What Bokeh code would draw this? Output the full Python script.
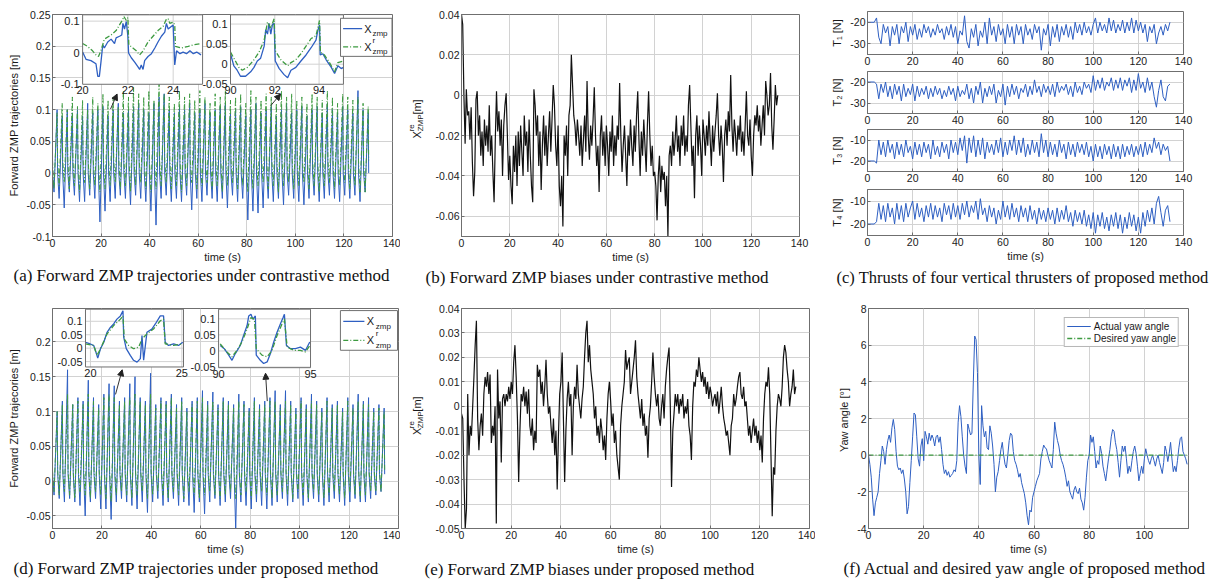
import numpy as np
from bokeh.plotting import figure
from bokeh.layouts import row, column
from bokeh.models import (Range1d, FixedTicker, PrintfTickFormatter, Title,
                          Arrow, NormalHead, Legend, LegendItem)
from bokeh.embed import file_html
from bokeh.resources import INLINE
from bokeh.core.properties import value

# ======================= DATA =======================
time_ticks = [0, 20, 40, 60, 80, 100, 120, 140]
time_ticks_f = [0, 20, 40, 60, 80, 100]

# ---- (a) contrastive method: per-step peaks / troughs [mm] ----
a_step_period = 2.1
a_xzmp_rest_mm = 0
a_xr_rest_mm = 20
a_xzmp_peak_mm = [100, 90, 100, 95, 100, 90, 110, 95, 100, 105,
                  90, 100, 110, 95, 100, 105, 110, 100, 95, 110,
                  120, 125, 100, 95, 105, 100, 110, 95, 100, 110,
                  95, 100, 105, 110, 95, 100, 105, 90, 100, 110,
                  95, 100, 105, 90, 100, 110, 95, 100, 105, 90,
                  100, 105, 95, 110, 100, 95, 105, 100, 95, 130,
                  100, 95]
a_xzmp_trough_mm = [-30, -40, -55, -30, -35, -45, -45, -35, -40, -77,
                    -60, -45, -40, -35, -40, -50, -35, -40, -45, -60,
                    -82, -40, -35, -45, -40, -45, -35, -58, -40, -45,
                    -35, -40, -45, -40, -55, -35, -45, -40, -74, -60,
                    -63, -55, -40, -45, -40, -50, -35, -40, -45, -50,
                    -40, -35, -45, -40, -35, -40, -45, -35, -40, -35,
                    -45, -30]
a_xr_peak_mm = [95, 110, 100, 120, 105, 115, 100, 120, 110, 125,
                115, 120, 105, 130, 120, 135, 125, 120, 130, 115,
                140, 125, 120, 110, 130, 120, 125, 115, 130, 120,
                110, 125, 120, 130, 115, 120, 125, 110, 130, 120,
                115, 125, 120, 110, 130, 120, 125, 115, 120, 110,
                125, 120, 115, 130, 120, 110, 125, 120, 115, 120,
                110, 105]
a_xr_trough_mm = [-25, -20, -15, -25, -20, -30, -15, -25, -20, -30,
                  -25, -20, -15, -25, -20, -30, -20, -15, -25, -30,
                  -25, -20, -15, -25, -20, -30, -20, -15, -25, -20,
                  -15, -25, -20, -30, -20, -15, -25, -20, -30, -25,
                  -20, -15, -25, -20, -30, -20, -15, -25, -20, -15,
                  -25, -20, -30, -20, -15, -25, -20, -15, -25, -20,
                  -30, -30]
# (a) zoomed insets
a_in1_xzmp_t = [20.00, 20.15, 20.37, 20.59, 20.67, 20.74, 20.81, 20.89, 20.96, 21.11,
                21.26, 21.41, 21.48, 21.63, 21.73, 21.78, 21.85, 21.93, 22.00, 22.03,
                22.15, 22.30, 22.44, 22.52, 22.59, 22.67, 22.74, 22.89, 23.04, 23.19,
                23.33, 23.48, 23.63, 23.70, 23.78, 23.93, 24.00, 24.04, 24.07, 24.15,
                24.30, 24.44, 24.59, 24.74, 24.89, 25.04, 25.23]
a_in1_xzmp_mm = [2, -21, -25, -35, -75, -75, -30, 25, 15, 34,
                 43, 29, 47, 52, 56, 93, 75, 99, 52, -1,
                 -16, -30, -44, -53, -39, -53, -25, -12, -3, 15,
                 34, 52, 65, 93, 75, 84, 88, 15, -39, 6,
                 -3, 2, -3, 6, -3, 2, -7]
a_in1_xr_t = [20.00, 20.22, 20.44, 20.59, 20.70, 20.81, 20.96, 21.26, 21.48, 21.63,
              21.78, 21.82, 21.93, 22.00, 22.04, 22.22, 22.37, 22.52, 22.67, 22.89,
              23.11, 23.33, 23.56, 23.70, 23.78, 23.85, 24.00, 24.07, 24.10, 24.37,
              24.67, 24.89, 25.23]
a_in1_xr_mm = [29, 20, 6, -7, -12, 6, 43, 56, 70, 88,
               106, 115, 102, 111, 25, 15, 6, -7, 6, 34,
               52, 70, 84, 106, 108, 93, 97, 88, 20, 15,
               20, 25, 29]
a_in2_xzmp_t = [90.00, 90.15, 90.30, 90.45, 90.68, 90.91, 91.06, 91.21, 91.36, 91.52,
                91.59, 91.67, 91.74, 91.82, 91.89, 91.97, 92.02, 92.20, 92.42, 92.58,
                92.73, 92.95, 93.18, 93.41, 93.64, 93.86, 93.94, 94.02, 94.05, 94.17,
                94.32, 94.55, 94.70, 94.85, 95.00, 95.10]
a_in2_xzmp_mm = [26, -4, -15, -30, -30, -19, -8, 8, 15, 45,
                 86, 75, 102, 75, 98, 102, 8, -11, -26, -34,
                 -15, -8, 8, 23, 41, 60, 83, 98, 23, 26,
                 11, -8, -23, -4, -11, -8]
a_in2_xr_t = [90.00, 90.15, 90.38, 90.53, 90.76, 91.06, 91.29, 91.52, 91.67, 91.82,
              91.97, 92.02, 92.27, 92.58, 92.73, 92.95, 93.18, 93.41, 93.64, 93.86,
              94.02, 94.06, 94.24, 94.47, 94.70, 94.85, 95.10]
a_in2_xr_mm = [30, 15, -8, -15, -8, 11, 30, 60, 105, 90,
               113, 34, 11, -4, 4, 11, 26, 45, 64, 71,
               109, 30, 23, 4, -19, 4, 8]

# ---- (b) ZMP bias, contrastive method [mm], sampled every 0.5 s ----
b_step = 0.5
b_bias_mm = [40, 35, 0, -24, 3, -10, -8, -22, -6, -33,
             -50, -38, -2, 2, -20, -10, -30, -18, -35, -12,
             -25, -15, -28, -5, -30, -20, -38, -53, -22, 2,
             -18, -8, -25, -12, -40, -15, -5, 1, -20, -42,
             -30, -45, -54, -25, -38, -20, -45, -18, -35, -15,
             -28, -40, -10, -25, -18, -38, -12, -30, -45, -53,
             3, -5, -20, -10, -35, -18, -47, -25, -10, -30,
             -15, -35, -20, -8, -28, -12, 5, -5, -25, -35,
             -15, -45, -55, -40, -65, -20, -30, -15, -40, -10,
             -5, 20, 5, -10, -15, -25, -12, -20, -30, -15,
             -35, -22, -10, -28, 7, -20, -32, -15, -25, -12,
             4, -20, -35, -25, -48, -20, -10, -30, -18, -35,
             -15, -25, -40, -18, -28, -10, -35, -20, -30, -15,
             -22, 6, -20, -38, -25, -15, -30, -45, -20, -30,
             -12, -25, -35, -15, -28, -10, 2, -22, -40, -18,
             -30, -12, -25, -38, -15, 2, -20, -35, -25, -40,
             -38, -45, -62, -40, -30, -48, -35, -42, -38, -55,
             -40, -70, -30, -25, -35, -18, -30, -22, -10, -28,
             -20, -35, -15, -25, -10, -30, -20, -28, -5, 5,
             -15, -35, -25, -51, -20, -10, -30, -15, -25, -40,
             -12, -20, -30, -15, -25, -8, -22, -35, -15, -28,
             -18, -10, 1, -20, -30, -15, -25, -43, -20, -12,
             -25, -8, -18, 10, -15, -28, -12, -20, -30, -15,
             -22, -10, -28, -18, -30, -15, 2, -20, -25, -12,
             -30, -40, -20, -10, -15, -5, -18, -10, -25, -15,
             -5, -20, 7, 0, -10, -5, 11, -15, -27, -12,
             5, -5, 0]

# ---- (c) thrusts of four vertical thrusters [N], sampled every 1 s ----
c_step = 1.0
c_T1 = [-20, -20, -20, -20, -18, -27, -30, -21, -25, -22,
        -31, -22, -26, -21, -30, -22, -25, -20, -29, -22,
        -26, -21, -28, -23, -27, -21, -25, -22, -27, -23,
        -26, -21, -25, -23, -28, -22, -26, -21, -27, -22,
        -30, -24, -26, -17, -29, -32, -23, -27, -21, -31,
        -24, -27, -20, -30, -18, -26, -22, -29, -21, -26,
        -23, -30, -21, -27, -22, -30, -21, -26, -22, -30,
        -21, -26, -23, -28, -21, -25, -22, -33, -23, -26,
        -21, -31, -22, -27, -21, -29, -22, -26, -21, -27,
        -22, -28, -20, -25, -21, -26, -20, -25, -22, -26,
        -21, -18, -25, -20, -24, -21, -25, -18, -24, -19,
        -25, -21, -24, -19, -25, -20, -24, -18, -25, -19,
        -24, -20, -25, -21, -29, -22, -25, -21, -30, -25,
        -22, -26, -21, -24, -20]
c_T2 = [-20, -20, -20, -20, -21, -28, -21, -25, -20, -27,
        -22, -28, -21, -26, -22, -29, -21, -27, -23, -26,
        -21, -29, -22, -27, -23, -26, -22, -28, -23, -27,
        -22, -26, -23, -28, -24, -27, -22, -26, -23, -29,
        -22, -27, -24, -26, -21, -28, -23, -30, -22, -26,
        -20, -30, -23, -27, -22, -26, -21, -30, -24, -27,
        -21, -31, -22, -27, -21, -26, -22, -28, -23, -25,
        -21, -27, -22, -26, -19, -25, -22, -27, -21, -25,
        -22, -26, -21, -27, -20, -25, -22, -24, -21, -26,
        -22, -27, -20, -25, -22, -26, -20, -23, -21, -25,
        -17, -24, -19, -23, -18, -24, -20, -22, -18, -24,
        -19, -23, -18, -24, -19, -22, -18, -25, -19, -24,
        -16, -23, -20, -25, -18, -24, -20, -27, -32, -24,
        -19, -27, -29, -22, -21]
c_T3 = [-20, -20, -20, -20, -21, -10, -17, -11, -18, -10,
        -16, -12, -19, -11, -17, -12, -18, -10, -16, -13,
        -19, -11, -17, -12, -18, -11, -16, -12, -19, -10,
        -17, -13, -18, -11, -16, -12, -19, -10, -16, -11,
        -17, -9, -15, -8, -21, -9, -16, -8, -18, -10,
        -17, -9, -19, -11, -16, -12, -17, -10, -16, -9,
        -18, -11, -17, -10, -15, -8, -17, -10, -16, -9,
        -18, -12, -17, -10, -16, -11, -18, -7, -16, -10,
        -18, -11, -17, -12, -18, -10, -16, -12, -19, -11,
        -17, -12, -18, -11, -16, -12, -17, -11, -18, -13,
        -20, -12, -18, -13, -19, -12, -17, -13, -19, -12,
        -18, -13, -19, -12, -18, -13, -17, -12, -18, -13,
        -17, -12, -18, -11, -17, -12, -16, -9, -14, -11,
        -17, -12, -15, -13, -20]
c_T4 = [-20, -20, -20, -20, -19, -11, -18, -12, -19, -11,
        -17, -13, -20, -11, -18, -12, -19, -11, -17, -13,
        -10, -18, -11, -17, -13, -19, -12, -17, -11, -18,
        -12, -17, -13, -19, -11, -16, -12, -18, -11, -17,
        -12, -18, -11, -16, -10, -17, -12, -15, -10, -18,
        -9, -16, -13, -19, -12, -17, -13, -20, -14, -18,
        -10, -17, -12, -18, -11, -17, -13, -19, -12, -17,
        -13, -19, -12, -18, -14, -20, -13, -18, -14, -19,
        -13, -18, -14, -20, -13, -19, -14, -18, -12, -19,
        -15, -21, -14, -19, -15, -20, -14, -21, -16, -22,
        -15, -24, -16, -21, -15, -22, -17, -23, -16, -21,
        -15, -22, -16, -24, -17, -22, -15, -21, -16, -23,
        -17, -24, -15, -21, -14, -19, -13, -20, -11, -8,
        -15, -21, -14, -12, -19]
c_labels = ["T\u2081 [N]", "T\u2082 [N]", "T\u2083 [N]", "T\u2084 [N]"]
c_yticks = [[-30, -20], [-30, -20], [-20, -10], [-20, -10]]

# ---- (d) proposed method: per-step peaks / troughs [mm] ----
d_step_period = 2.1
d_xzmp_rest_mm = 10
d_xr_rest_mm = 15
d_xzmp_peak_mm = [100, 115, 160, 110, 120, 115, 145, 120, 110, 125,
                  140, 137, 115, 120, 140, 150, 120, 115, 155, 110,
                  120, 115, 125, 110, 120, 105, 115, 120, 130, 115,
                  128, 110, 120, 115, 110, 125, 115, 105, 120, 110,
                  115, 120, 130, 110, 130, 115, 105, 120, 110, 125,
                  115, 105, 120, 110, 115, 105, 120, 110, 125, 115,
                  120, 105, 110, 105]
d_xzmp_trough_mm = [-20, -25, -30, -25, -30, -35, -50, -30, -25, -40,
                    -40, -55, -30, -25, -30, -35, -40, -30, -45, -30,
                    -25, -35, -30, -25, -35, -30, -35, -45, -30, -47,
                    -30, -25, -35, -30, -25, -70, -30, -35, -40, -30,
                    -35, -40, -35, -30, -25, -35, -30, -25, -35, -30,
                    -25, -30, -35, -30, -25, -30, -35, -30, -25, -30,
                    -30, -25, -20, -15]
d_xr_peak_mm = [100, 110, 125, 110, 115, 110, 125, 115, 105, 120,
                125, 120, 110, 115, 120, 125, 115, 110, 125, 105,
                115, 110, 120, 105, 115, 100, 110, 115, 120, 110,
                115, 105, 115, 110, 105, 115, 110, 100, 115, 105,
                110, 115, 115, 105, 115, 110, 100, 115, 105, 115,
                110, 100, 115, 105, 110, 100, 115, 105, 115, 110,
                110, 100, 105, 100]
d_xr_trough_mm = [-15, -20, -15, -20, -25, -15, -20, -25, -15, -20,
                  -25, -30, -20, -15, -20, -25, -20, -15, -25, -20,
                  -15, -20, -25, -15, -20, -25, -15, -20, -25, -20,
                  -15, -20, -25, -20, -15, -25, -20, -15, -25, -20,
                  -15, -20, -25, -20, -15, -20, -25, -15, -20, -25,
                  -15, -20, -25, -20, -15, -20, -25, -15, -20, -25,
                  -20, -15, -15, -15]
d_in1_xzmp_t = [19.73, 19.91, 20.18, 20.33, 20.40, 20.55, 20.73, 20.91, 21.09, 21.27,
                21.45, 21.64, 21.78, 21.82, 21.96, 22.18, 22.36, 22.55, 22.73, 22.82,
                22.91, 23.09, 23.36, 23.55, 23.82, 24.00, 24.09, 24.27, 24.55, 24.82,
                25.05]
d_in1_xzmp_mm = [22, 18, 10, -21, -37, -2, 22, 59, 77, 90,
                 108, 120, 139, 41, -2, -27, -45, -52, -39, 47,
                 -45, 59, 71, 90, 120, 120, 22, 10, 16, 10,
                 22]
d_in1_xr_t = [19.73, 20.18, 20.36, 20.55, 20.91, 21.27, 21.64, 21.78, 21.85, 22.09,
              22.36, 22.64, 22.82, 23.09, 23.45, 23.82, 24.00, 24.09, 24.55, 25.05]
d_in1_xr_mm = [16, 10, -27, -2, 53, 84, 108, 120, 34, 10,
               -2, 4, 34, 53, 71, 102, 108, 16, 10, 16]
d_in2_xzmp_t = [90.09, 90.31, 90.55, 90.73, 90.91, 91.18, 91.36, 91.55, 91.64, 91.76,
                91.87, 92.00, 92.05, 92.27, 92.45, 92.64, 92.82, 93.00, 93.18, 93.36,
                93.51, 93.58, 93.69, 93.91, 94.18, 94.45, 94.73, 94.96]
d_in2_xzmp_mm = [17, 7, -13, -29, -8, 17, 48, 79, 109, 114,
                 99, 109, -13, -29, -39, -34, -8, 28, 58, 84,
                 104, 114, 17, 7, 7, 12, 2, 28]
d_in2_xr_t = [90.09, 90.45, 90.73, 91.00, 91.27, 91.55, 91.76, 91.95, 92.05, 92.36,
              92.64, 92.91, 93.18, 93.45, 93.58, 93.73, 94.09, 94.45, 94.73, 94.96]
d_in2_xr_mm = [22, -3, -18, 2, 28, 68, 104, 99, 7, -13,
               -18, 2, 48, 84, 99, 12, 2, 2, -3, 17]

# ---- (e) ZMP bias, proposed method [mm], sampled every 0.5 s ----
e_step = 0.5
e_bias_mm = [-3, -5, -30, -50, -42, 5, -20, -8, -12, 0,
             12, 25, 35, -5, -18, -8, -3, -12, 5, 12,
             8, 14, 5, 13, -15, -8, -12, 0, -48, 15,
             -5, 2, -23, 3, 5, 0, 5, 2, 8, 3,
             10, 5, 18, 25, 12, -5, -31, -10, 5, 2,
             8, 0, 6, -3, 7, -8, -12, -5, -18, -10,
             -15, 17, 12, 15, 5, 10, 0, 8, 19, 5,
             -3, 0, -8, -15, -5, -20, -10, -34, -12, 5,
             10, 22, -5, -31, -10, 3, 10, 0, 5, -20,
             0, 8, 3, 17, 5, 0, -5, 3, 8, 20,
             30, 35, 18, 25, 15, 10, 5, -5, 0, -12,
             -8, -15, -5, -10, -18, -12, -22, -5, 5, 10,
             2, -8, -3, -15, -10, -20, -25, -30, -8, 0,
             5, 10, 23, 15, 18, 20, 5, 10, 15, 20,
             27, 12, 5, 0, -5, 3, -8, -3, -12, -8,
             -21, -5, 0, 10, 22, 12, 5, 0, 5, -5,
             -8, 0, 5, -5, 8, 15, 20, 24, 0, -33,
             -10, -3, 5, 0, 5, -3, 3, 0, 5, -5,
             0, -3, 3, -8, -12, -22, 0, 10, 8, 15,
             12, 20, 15, 10, 14, 8, 12, 5, 10, 3,
             8, 5, 0, 3, 5, 0, 6, -3, 2, 8,
             0, -5, -8, -12, -10, -15, -20, -8, -5, 5,
             0, 3, 8, 12, 14, 5, 3, 8, 0, 2,
             -5, -12, -8, -15, -10, -5, -12, -8, -15, -10,
             -18, -12, -23, -5, 5, 10, 8, 16, 5, -20,
             -45, -25, -28, -10, 0, 5, 3, 0, 8, 20,
             25, 22, 15, 10, 0, 5, 8, 15, 5, 8]

# ---- (f) yaw angle [deg], sampled every 0.5 s ----
f_step = 0.5
f_actual_yaw = [0, -0.5, -1.2, -2.4, -3.3, -2.6, -2.3, -2.0, -1.0, -0.3,
                0.5, 0.2, -0.5, 0.3, 0.8, 1.1, 0.7, 1.5, 1.95, 1.4,
                0.2, -0.6, -0.8, -0.7, -1.0, -0.8, -1.3, -2.0, -3.2, -2.8,
                -1.5, -0.3, 1.0, 2.3, 2.2, 1.0, -0.2, -0.6, 0.5, 0.9,
                -0.3, 1.3, 1.0, 0.6, 1.2, 0.8, 1.1, 0.9, 0.5, 1.0,
                1.1, 0.7, 1.0, 0.3, -0.5, -1.0, -0.8, -1.1, -0.9, -1.2,
                -1.1, -1.0, -0.8, -0.9, -0.3, 1.8, 2.7, 2.1, 1.0, 0.0,
                -0.6, -1.0, 1.7, 1.4, 1.1, 1.2, 4.0, 6.5, 6.3, 4.5,
                0.0, -1.6, 2.7, 1.6, 1.0, 1.3, 0.4, 0.3, 1.6, 1.2,
                0.5, -0.5, -2.0, -1.2, -0.9, -0.3, 0.3, 0.7, 0.0, -0.5,
                -0.7, 0.0, 0.8, 1.2, 1.1, 0.2, -0.3, -0.5, -0.8, -1.2,
                -1.0, -1.5, -1.8, -2.1, -2.6, -3.3, -3.8, -3.0, -3.1, -2.3,
                -2.0, -1.7, -1.4, -1.2, -1.0, -0.2, 0.2, 0.55, 0.4, 0.35,
                0.0, -0.3, -0.5, -0.7, 0.3, 1.8, 1.2, 0.8, 0.5, 0.0,
                -0.3, -0.5, -0.8, -1.2, -1.7, -1.4, -2.0, -2.2, -2.4, -1.9,
                -1.7, -2.0, -2.1, -1.8, -2.4, -2.6, -3.0, -2.3, -1.2, -0.3,
                0.0, 1.1, 0.7, 1.0, 0.2, -0.7, -0.3, -0.5, 0.5, 0.1,
                -0.6, -1.0, -1.4, -0.8, -0.2, 0.3, 1.0, 1.4, 1.3, 0.7,
                0.3, -0.4, -1.2, -0.3, 0.5, 0.2, 0.5, -0.2, -1.0, -0.6,
                -0.9, -0.3, 0.2, 0.5, 0.1, -0.6, -1.4, -1.0, -0.6, -1.0,
                -0.2, 0.35, 0.0, -0.3, -0.5, -0.2, 0.0, -0.3, -0.6, -0.2,
                0.0, -0.4, -0.7, -1.0, -0.4, 0.5, 0.2, -0.35, 0.1, 0.7,
                -0.2, -0.9, -0.6, -0.9, -0.3, 0.4, 0.9, 1.0, 0.2, 0.0,
                -0.2, -0.5]
f_desired_t = [0, 115.5]
f_desired_yaw = [0, 0]

captions = [
    "(a) Forward ZMP trajectories under contrastive method",
    "(b) Forward ZMP biases under contrastive method",
    "(c) Thrusts of four vertical thrusters of proposed method",
    "(d) Forward ZMP trajectories under proposed method",
    "(e) Forward ZMP biases under proposed method",
    "(f) Actual and desired yaw angle of proposed method",
]

# ======================= STYLE =======================
FONT = "Liberation Sans"
SERIF = "Liberation Serif"
FRAME = "#6f6f6f"
GRID = "#d2d2d2"
TXT = "#1a1a1a"
BLUE = "#2e5fc2"
GREEN = "#3d9a40"
DASHDOT = "5 2 1 2"
H1, H2 = 296, 291
LW = 24  # width of the strip holding the X^re_ZMP axis titles


def make_fig(w, h, xr, yr, xt, yt, bl, br, bt, bb, xlabel=None, ylabel=None):
    p = figure(width=w, height=h, x_range=Range1d(*xr), y_range=Range1d(*yr),
               output_backend="svg", toolbar_location=None,
               min_border_left=bl, min_border_right=br,
               min_border_top=bt, min_border_bottom=bb)
    p.outline_line_color = FRAME
    p.background_fill_color = "white"
    p.border_fill_color = "white"
    for ax, ticks in ((p.xaxis[0], xt), (p.yaxis[0], yt)):
        ax.ticker = FixedTicker(ticks=ticks)
        ax.formatter = PrintfTickFormatter(format="%g")
        ax.axis_line_color = FRAME
        ax.major_tick_line_color = FRAME
        ax.major_tick_in = 3
        ax.major_tick_out = 0
        ax.minor_tick_line_color = None
        ax.major_label_text_font = FONT
        ax.major_label_text_font_size = "10.5px"
        ax.major_label_text_color = TXT
        ax.major_label_standoff = 2
        ax.axis_label_text_font = FONT
        ax.axis_label_text_font_size = "11px"
        ax.axis_label_text_font_style = "normal"
        ax.axis_label_text_color = TXT
        ax.axis_label_standoff = 1
    p.yaxis.axis_label_standoff = 4
    p.xgrid.ticker = FixedTicker(ticks=xt)
    p.ygrid.ticker = FixedTicker(ticks=yt)
    p.grid.grid_line_color = GRID
    if xlabel:
        p.xaxis.axis_label = xlabel
    if ylabel:
        p.yaxis.axis_label = ylabel
    return p


def add_caption(p, text, offset, standoff, size="17px"):
    p.add_layout(Title(text=text, align="left", offset=offset, standoff=standoff,
                       text_font=SERIF, text_font_size=size, text_font_style="normal",
                       text_color="#111111"), "below")


def zmp_wave(peaks_mm, troughs_mm, rest_mm, period):
    t, v = [], []
    for k, (pk, tr) in enumerate(zip(peaks_mm, troughs_mm)):
        t0 = k * period
        t += [t0, t0 + 0.3 * period, t0 + 0.9 * period]
        v += [rest_mm, tr, pk]
    t.append(len(peaks_mm) * period)
    v.append(rest_mm)
    return np.array(t), np.array(v) / 1000.0


def inset(p, xs, ys, xtarget, ytarget, series, xticks, yticks):
    sub = p.subplot(x_source=Range1d(*xs), y_source=Range1d(*ys),
                    x_target=Range1d(*xtarget), y_target=Range1d(*ytarget))
    sub.quad(left=[xs[0]], right=[xs[1]], bottom=[ys[0]], top=[ys[1]],
             fill_color="white", line_color=None)
    gx = [x for x in xticks if xs[0] < x < xs[1]]
    gy = [y for y in yticks if ys[0] < y < ys[1]]
    if gx:
        sub.segment(x0=gx, y0=[ys[0]] * len(gx), x1=gx, y1=[ys[1]] * len(gx),
                    line_color=GRID, line_width=1)
    if gy:
        sub.segment(x0=[xs[0]] * len(gy), y0=gy, x1=[xs[1]] * len(gy), y1=gy,
                    line_color=GRID, line_width=1)
    for t, v, color, dash in series:
        sub.line(t, np.array(v) / 1000.0, line_color=color, line_width=1.3, line_dash=dash)
    sub.quad(left=[xs[0]], right=[xs[1]], bottom=[ys[0]], top=[ys[1]],
             fill_color=None, line_color=FRAME)
    sub.text(x=xticks, y=[ys[0]] * len(xticks), text=[f"{x:g}" for x in xticks],
             text_align="center", text_baseline="top", y_offset=2,
             text_font=value(FONT), text_font_size=value("11px"), text_color=TXT)
    sub.text(x=[xs[0]] * len(yticks), y=yticks, text=[f"{y:g}" for y in yticks],
             text_align="right", text_baseline="middle", x_offset=-3,
             text_font=value(FONT), text_font_size=value("11px"), text_color=TXT)


def zmp_legend(p, xtarget, ytarget):
    lg = p.subplot(x_source=Range1d(0, 1), y_source=Range1d(0, 1),
                   x_target=Range1d(*xtarget), y_target=Range1d(*ytarget))
    lg.quad(left=[0], right=[1], bottom=[0], top=[1], fill_color="white", line_color=FRAME)
    lg.line([0.05, 0.42], [0.73, 0.73], line_color=BLUE, line_width=1.3)
    lg.line([0.05, 0.42], [0.25, 0.25], line_color=GREEN, line_width=1.3, line_dash=DASHDOT)
    lg.text(x=[0.46, 0.46], y=[0.73, 0.25], text=["X", "X"], text_align="left",
            text_baseline="middle", text_font=value(FONT), text_font_size=value("11px"),
            text_color=TXT)
    lg.text(x=[0.62, 0.62], y=[0.6, 0.12], text=["zmp", "zmp"], text_align="left",
            text_baseline="middle", text_font=value(FONT), text_font_size=value("8px"),
            text_color=TXT)
    lg.text(x=[0.62], y=[0.42], text=["r"], text_align="left",
            text_baseline="middle", text_font=value(FONT), text_font_size=value("8px"),
            text_color=TXT)


def arrow(p, xs, ys, xe, ye):
    p.add_layout(Arrow(end=NormalHead(size=6, fill_color="#222222", line_color="#222222"),
                       x_start=xs, y_start=ys, x_end=xe, y_end=ye,
                       line_color="#333333", line_width=1))


def label_fig(width, height, yrange, top, bottom, parts):
    lf = figure(width=width, height=height, x_range=Range1d(0, width), y_range=yrange,
                x_axis_type=None, y_axis_type=None, output_backend="svg",
                toolbar_location=None, min_border_left=0, min_border_right=0,
                min_border_top=top, min_border_bottom=bottom)
    lf.outline_line_color = None
    for text, x, y, size in parts:
        lf.text(x=[x], y=[y], text=[text], angle=np.pi / 2, text_align="left",
                text_baseline="middle", text_font=value(FONT),
                text_font_size=value(size), text_color=TXT)
    return lf


# ======================= (a) =======================
pa = make_fig(400, H1, (0, 140), (-0.1, 0.25), time_ticks,
              [-0.1, -0.05, 0, 0.05, 0.1, 0.15, 0.2, 0.25],
              52, 8, 14, 57, "time (s)", "Forward ZMP trajectories [m]")
ta, va = zmp_wave(a_xzmp_peak_mm, a_xzmp_trough_mm, a_xzmp_rest_mm, a_step_period)
tr, vr = zmp_wave(a_xr_peak_mm, a_xr_trough_mm, a_xr_rest_mm, a_step_period)
pa.line(ta, va, line_color=BLUE, line_width=1)
pa.line(tr, vr, line_color=GREEN, line_width=1, line_dash=DASHDOT)
arrow(pa, 23.9, 0.101, 26.6, 0.1246)
arrow(pa, 89.8, 0.106, 93.9, 0.1246)
inset(pa, (20, 25.3), (-0.1, 0.12), (12.4, 61.8), (0.14, 0.2495),
      [(a_in1_xzmp_t, a_in1_xzmp_mm, BLUE, "solid"),
       (a_in1_xr_t, a_in1_xr_mm, GREEN, DASHDOT)],
      [20, 22, 24], [-0.1, 0, 0.1])
inset(pa, (90, 95.1), (-0.05, 0.123), (73.3, 119.8), (0.14, 0.2495),
      [(a_in2_xzmp_t, a_in2_xzmp_mm, BLUE, "solid"),
       (a_in2_xr_t, a_in2_xr_mm, GREEN, DASHDOT)],
      [90, 92, 94], [-0.05, 0, 0.05, 0.1])
zmp_legend(pa, (118.6, 139.8), (0.184, 0.244))
add_caption(pa, captions[0], -39, -3)

# ======================= (b) =======================
pb = make_fig(415 - LW, H1, (0, 140), (-0.07, 0.04), time_ticks,
              [-0.06, -0.04, -0.02, 0, 0.02, 0.04],
              61 - LW, 16, 12, 60, "time (s)")
tb = np.arange(len(b_bias_mm)) * b_step
pb.line(tb, np.array(b_bias_mm) / 1000.0, line_color="#111111", line_width=1.2)
add_caption(pb, captions[1], -36, 1)
lb = label_fig(LW, H1, pb.y_range, 12, 60,
               [("X", 16, -0.0214, "11px"), ("re", 11, -0.0179, "8px"),
                ("ZMP", 20, -0.0179, "8px"), ("[m]", 16, -0.0096, "11px")])

# ======================= (c) =======================
c_series = [c_T1, c_T2, c_T3, c_T4]
c_yranges = [(-35, -15), (-35, -15), (-25, -5), (-25, -5)]
c_heights = [69, 59, 58, 110]
c_tops = [11, 2, 1, 3]
c_bottoms = [15, 15, 15, 61]
c_figs = []
for i in range(4):
    pc = make_fig(404, c_heights[i], (0, 140), c_yranges[i], time_ticks, c_yticks[i],
                  52, 36, c_tops[i], c_bottoms[i], "time (s)" if i == 3 else None, c_labels[i])
    tc = np.arange(len(c_series[i])) * c_step
    pc.line(tc, c_series[i], line_color=BLUE, line_width=1)
    c_figs.append(pc)
add_caption(c_figs[3], captions[2], -31, 2, "16.5px")

# ======================= (d) =======================
pd_ = make_fig(400, H2, (0, 140), (-0.068, 0.248), time_ticks,
               [-0.05, 0, 0.05, 0.1, 0.15, 0.2],
               52, 2, 12, 57, "time (s)", "Forward ZMP trajecories [m]")
td, vd = zmp_wave(d_xzmp_peak_mm, d_xzmp_trough_mm, d_xzmp_rest_mm, d_step_period)
tdr, vdr = zmp_wave(d_xr_peak_mm, d_xr_trough_mm, d_xr_rest_mm, d_step_period)
pd_.line(td, vd, line_color=BLUE, line_width=1)
pd_.line(tdr, vdr, line_color=GREEN, line_width=1, line_dash=DASHDOT)
arrow(pd_, 25.5, 0.1246, 28.2, 0.160)
arrow(pd_, 86.9, 0.115, 86.2, 0.155)
inset(pd_, (19.73, 25.09), (-0.07, 0.145), (13.35, 53.0), (0.164, 0.247),
      [(d_in1_xzmp_t, d_in1_xzmp_mm, BLUE, "solid"),
       (d_in1_xr_t, d_in1_xr_mm, GREEN, DASHDOT)],
      [20, 25], [-0.05, 0, 0.05, 0.1])
inset(pd_, (90, 95), (-0.052, 0.13), (67.2, 104.4), (0.163, 0.247),
      [(d_in2_xzmp_t, d_in2_xzmp_mm, BLUE, "solid"),
       (d_in2_xr_t, d_in2_xr_mm, GREEN, DASHDOT)],
      [90, 95], [-0.05, 0, 0.05, 0.1])
zmp_legend(pd_, (116.5, 139.6), (0.188, 0.245))
add_caption(pd_, captions[3], -39, -1)

# ======================= (e) =======================
pe = make_fig(415 - LW, H2, (0, 140), (-0.05, 0.04), time_ticks,
              [-0.05, -0.04, -0.03, -0.02, -0.01, 0, 0.01, 0.02, 0.03, 0.04],
              61 - LW, 6, 11, 59, "time (s)")
te = np.arange(len(e_bias_mm)) * e_step
pe.line(te, np.array(e_bias_mm) / 1000.0, line_color="#111111", line_width=1.2)
add_caption(pe, captions[4], -37, 1)
le = label_fig(LW, H2, pe.y_range, 11, 59,
               [("X", 16, -0.0118, "11px"), ("re", 11, -0.0090, "8px"),
                ("ZMP", 20, -0.0090, "8px"), ("[m]", 16, -0.0022, "11px")])

# ======================= (f) =======================
pf = make_fig(404, H2, (0, 116), (-4, 8), time_ticks_f, [-4, -2, 0, 2, 4, 6, 8],
              53, 31, 10, 57, "time (s)", "Yaw angle  [\u00b0]")
tf = np.arange(len(f_actual_yaw)) * f_step
r_act = pf.line(tf, f_actual_yaw, line_color=BLUE, line_width=1)
r_des = pf.line(f_desired_t, f_desired_yaw, line_color=GREEN, line_width=1.3, line_dash=DASHDOT)
leg = Legend(items=[LegendItem(label="Actual yaw angle", renderers=[r_act]),
                    LegendItem(label="Desired yaw angle", renderers=[r_des])],
             location="top_right", border_line_color=FRAME, label_text_font=FONT,
             label_text_font_size="10px", label_text_color=TXT, margin=9, padding=2,
             spacing=0, label_height=12, glyph_height=12, glyph_width=24, label_standoff=3)
pf.add_layout(leg)
add_caption(pf, captions[5], -25, -1)

layout = column(row(pa, lb, pb, column(*c_figs)), row(pd_, le, pe, pf))
open("out.html", "w").write(file_html(layout, INLINE, title="ZMP figure"))
